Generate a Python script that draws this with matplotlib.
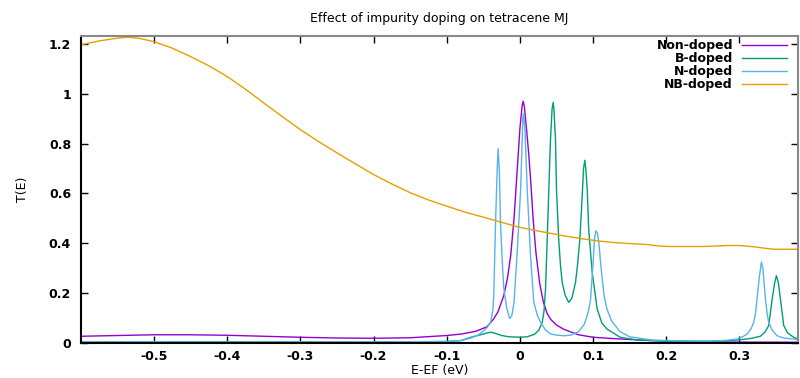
import matplotlib
matplotlib.use("Agg")

import matplotlib.pyplot as plt
from matplotlib.ticker import FormatStrFormatter

# values (x = E-EF in eV, y = T(E))
non_x = [-0.60, -0.55, -0.50, -0.45, -0.40, -0.35, -0.30, -0.25, -0.20, -0.15, -0.10, -0.08,
         -0.06, -0.045, -0.036, -0.030, -0.022, -0.017, -0.0126, -0.008, -0.004, 0.000, 0.003,
         0.0045, 0.006, 0.009, 0.012, 0.015, 0.018, 0.022, 0.027, 0.032, 0.037, 0.042, 0.050,
         0.060, 0.080, 0.100, 0.137, 0.18, 0.22, 0.27, 0.38]
non_y = [0.027, 0.030, 0.033, 0.033, 0.031, 0.027, 0.023, 0.020, 0.019, 0.021, 0.030, 0.036,
         0.047, 0.065, 0.096, 0.125, 0.19, 0.26, 0.35, 0.50, 0.68, 0.86, 0.95,
         0.97, 0.95, 0.86, 0.76, 0.64, 0.50, 0.36, 0.24, 0.165, 0.12, 0.095, 0.072,
         0.055, 0.033, 0.023, 0.016, 0.010, 0.007, 0.004, 0.003]

b_x = [-0.60, -0.40, -0.20, -0.10, -0.08, -0.067, -0.055, -0.045, -0.040, -0.035, -0.025,
       -0.015, 0.001, 0.010, 0.020, 0.026, 0.0305, 0.033, 0.035, 0.0373, 0.0395, 0.0418,
       0.0440, 0.0455, 0.0465, 0.0486, 0.050, 0.053, 0.0555, 0.0578, 0.062, 0.0668, 0.071,
       0.076, 0.079, 0.0819, 0.0851, 0.087, 0.0887, 0.090, 0.092, 0.094, 0.0988, 0.1056,
       0.112, 0.119, 0.137, 0.16, 0.20, 0.25, 0.28, 0.301, 0.315, 0.3287, 0.335, 0.340,
       0.3447, 0.348, 0.3505, 0.353, 0.356, 0.3605, 0.366, 0.374, 0.383]
b_y = [0.005, 0.005, 0.004, 0.006, 0.010, 0.023, 0.032, 0.040, 0.043, 0.040, 0.030,
       0.025, 0.023, 0.025, 0.035, 0.052, 0.083, 0.13, 0.216, 0.416, 0.616, 0.816,
       0.94, 0.965, 0.94, 0.816, 0.616, 0.416, 0.31, 0.243, 0.19, 0.163, 0.18,
       0.243, 0.32, 0.416, 0.589, 0.70, 0.733, 0.70, 0.616, 0.456, 0.283, 0.136,
       0.08, 0.056, 0.023, 0.012, 0.007, 0.006, 0.008, 0.013, 0.018, 0.027, 0.045, 0.070,
       0.176, 0.24, 0.27, 0.245, 0.176, 0.070, 0.040, 0.023, 0.013]

n_x = [-0.60, -0.40, -0.20, -0.10, -0.08, -0.067, -0.058, -0.049, -0.044, -0.040, -0.037,
       -0.0357, -0.0333, -0.031, -0.0297, -0.028, -0.0265, -0.024, -0.022, -0.018, -0.014,
       -0.011, -0.008, -0.004, 0.001, 0.004, 0.005, 0.007, 0.010, 0.0145, 0.019, 0.024,
       0.028, 0.035, 0.042, 0.050, 0.060, 0.070, 0.080, 0.088, 0.093, 0.0964, 0.100, 0.102,
       0.1037, 0.106, 0.108, 0.110, 0.112, 0.115, 0.119, 0.125, 0.137, 0.15, 0.18, 0.22,
       0.26, 0.28, 0.297, 0.305, 0.3105, 0.316, 0.3195, 0.322, 0.324, 0.327, 0.330, 0.332,
       0.3355, 0.338, 0.340, 0.345, 0.3515, 0.36, 0.383]
n_y = [0.005, 0.004, 0.004, 0.006, 0.010, 0.020, 0.030, 0.050, 0.065, 0.084, 0.13,
       0.19, 0.48, 0.70, 0.78, 0.68, 0.48, 0.32, 0.22, 0.14, 0.098,
       0.11, 0.163, 0.35, 0.616, 0.90, 0.92, 0.85, 0.616, 0.35, 0.163, 0.11,
       0.084, 0.052, 0.036, 0.032, 0.029, 0.032, 0.045, 0.075, 0.12, 0.17, 0.32, 0.42,
       0.45, 0.44, 0.40, 0.33, 0.27, 0.19, 0.136, 0.09, 0.045, 0.025, 0.012, 0.008,
       0.008, 0.010, 0.016, 0.026, 0.036, 0.058, 0.083, 0.12, 0.176, 0.26, 0.325, 0.30,
       0.176, 0.115, 0.083, 0.050, 0.029, 0.020, 0.013]

nb_x = [-0.600, -0.575, -0.550, -0.536, -0.520, -0.500, -0.475, -0.450, -0.425, -0.400,
        -0.375, -0.350, -0.325, -0.300, -0.275, -0.250, -0.225, -0.200, -0.175, -0.150,
        -0.125, -0.100, -0.075, -0.050, -0.025, 0.000, 0.020, 0.042, 0.060, 0.083, 0.105,
        0.128, 0.150, 0.174, 0.190, 0.206, 0.250, 0.283, 0.300, 0.320, 0.335, 0.347, 0.383]
nb_y = [1.196, 1.212, 1.223, 1.227, 1.222, 1.209, 1.183, 1.149, 1.112, 1.069,
        1.018, 0.963, 0.909, 0.856, 0.808, 0.763, 0.719, 0.676, 0.638, 0.603,
        0.574, 0.549, 0.525, 0.505, 0.484, 0.464, 0.452, 0.440, 0.430, 0.419, 0.410,
        0.403, 0.399, 0.395, 0.389, 0.387, 0.387, 0.391, 0.391, 0.386, 0.380, 0.376, 0.376]

labels = ["Non-doped", "B-doped", "N-doped", "NB-doped"]
colors = ["#9400d3", "#009e73", "#56b4e9", "#e69f00"]

plt.rcParams["axes.unicode_minus"] = False
plt.rcParams["font.family"] = "DejaVu Sans"

fig = plt.figure(figsize=(8, 3.78), dpi=100)
ax = fig.add_axes([0.101, 0.0926, 0.8965, 0.8124])

series = [(non_x, non_y), (b_x, b_y), (n_x, n_y), (nb_x, nb_y)]
for (xs, ys), lab, col in zip(series, labels, colors):
    ax.plot(xs, ys, color=col, lw=1.0, label=lab)

ax.set_xlim(-0.6, 0.38)
ax.set_ylim(0, 1.232)
ax.set_xticks([-0.5, -0.4, -0.3, -0.2, -0.1, 0, 0.1, 0.2, 0.3])
ax.set_yticks([0, 0.2, 0.4, 0.6, 0.8, 1.0, 1.2])
ax.xaxis.set_major_formatter(FormatStrFormatter("%g"))
ax.yaxis.set_major_formatter(FormatStrFormatter("%g"))
ax.tick_params(direction="in", length=5, width=1, top=True, right=True, labelsize=9)
ax.tick_params(axis="x", pad=5)
ax.tick_params(axis="y", pad=7)
for t in ax.get_xticklabels() + ax.get_yticklabels():
    t.set_fontweight("bold")

ax.spines["left"].set_color("black")
ax.spines["bottom"].set_color("black")
ax.spines["top"].set_color("#888888")
ax.spines["right"].set_color("#888888")
for s in ax.spines.values():
    s.set_linewidth(1.5)

ax.set_title("Effect of impurity doping on tetracene MJ", fontsize=9, pad=10)
ax.set_xlabel("E-EF (eV)", fontsize=9, labelpad=1)
ax.set_ylabel("T(E)", fontsize=9, labelpad=14)

leg = ax.legend(loc="upper right", bbox_to_anchor=(0.993, 1.01), frameon=False,
                markerfirst=False, prop={"size": 9, "weight": "bold"},
                handlelength=3.6, handletextpad=0.7, labelspacing=0.0, borderpad=0)
for t in leg.get_texts():
    t.set_ha("right")

fig.savefig("out.png", dpi=100)
